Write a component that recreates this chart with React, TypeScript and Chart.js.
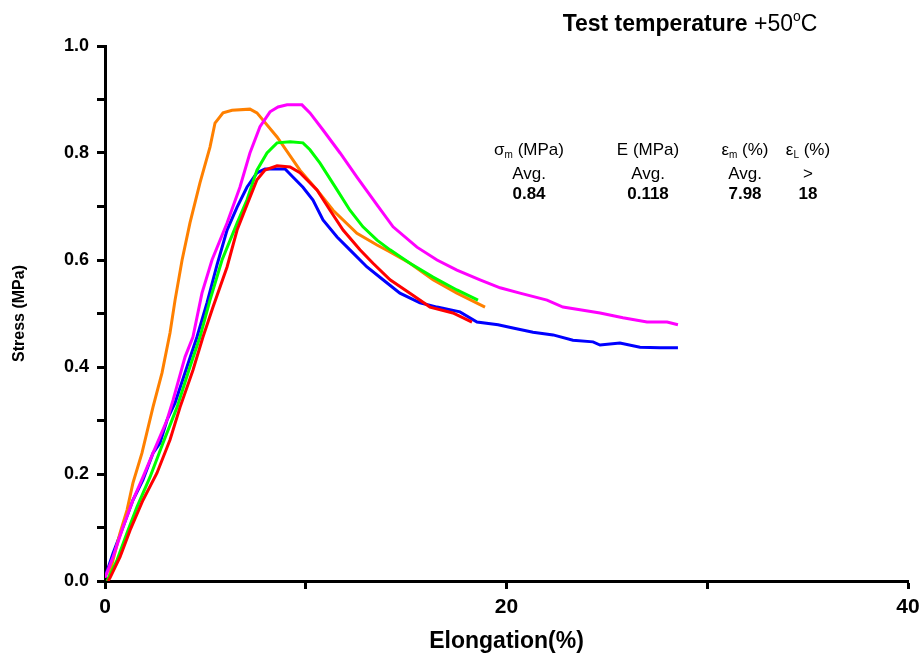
import React, { useEffect, useRef } from "react";
import { Chart, registerables } from "chart.js";

Chart.register(...registerables);

// Elongation (%) and Stress (MPa) for each specimen
const redX = [0.15, 0.25, 0.75, 1.25, 1.89, 2.59, 3.24, 3.74, 4.38, 4.88, 5.38, 6.08, 6.58, 7.07, 7.57, 7.97, 8.57, 9.22, 9.71, 10.56, 11.21, 11.86, 12.7, 13.35, 14.2, 15.19, 16.19, 17.33, 18.28];
const redY = [0, 0.006, 0.045, 0.095, 0.151, 0.202, 0.264, 0.325, 0.394, 0.456, 0.512, 0.587, 0.656, 0.703, 0.75, 0.768, 0.776, 0.774, 0.763, 0.731, 0.693, 0.656, 0.619, 0.594, 0.563, 0.538, 0.512, 0.501, 0.484];

const greenX = [0.1, 0.25, 0.6, 1.1, 1.59, 2.24, 2.89, 3.59, 4.23, 4.73, 5.23, 5.83, 6.58, 7.07, 7.57, 8.07, 8.57, 9.22, 9.86, 10.21, 10.71, 11.56, 12.2, 12.85, 13.55, 14.2, 15.19, 16.34, 17.53, 18.58];
const greenY = [0, 0.011, 0.039, 0.09, 0.138, 0.194, 0.258, 0.325, 0.4, 0.456, 0.525, 0.6, 0.669, 0.712, 0.768, 0.8, 0.819, 0.821, 0.819, 0.806, 0.781, 0.731, 0.693, 0.662, 0.637, 0.619, 0.594, 0.568, 0.544, 0.525];

const magentaX = [0, 0.4, 0.9, 1.39, 1.89, 2.39, 3.09, 3.39, 3.99, 4.38, 4.83, 5.33, 6.08, 6.72, 7.22, 7.72, 8.22, 8.62, 9.07, 9.81, 10.21, 10.86, 11.71, 12.55, 13.55, 14.35, 15.54, 16.54, 17.53, 18.68, 19.68, 20.67, 22.02, 22.81, 23.66, 24.66, 25.8, 27.0, 28.0, 28.54];
const magentaY = [0.006, 0.045, 0.101, 0.151, 0.194, 0.239, 0.301, 0.338, 0.419, 0.456, 0.538, 0.6, 0.669, 0.736, 0.8, 0.849, 0.877, 0.886, 0.89, 0.89, 0.875, 0.843, 0.8, 0.755, 0.703, 0.662, 0.624, 0.6, 0.581, 0.563, 0.548, 0.538, 0.525, 0.512, 0.507, 0.501, 0.492, 0.484, 0.484, 0.479];

const orangeX = [0.15, 0.4, 0.75, 1.1, 1.39, 1.84, 2.39, 2.84, 3.24, 3.49, 3.84, 4.23, 4.73, 5.23, 5.48, 5.88, 6.33, 7.22, 7.57, 8.57, 9.71, 10.56, 11.36, 12.55, 13.55, 14.2, 15.19, 16.34, 17.53, 18.93];
const orangeY = [0, 0.039, 0.09, 0.133, 0.183, 0.239, 0.325, 0.389, 0.464, 0.525, 0.6, 0.669, 0.744, 0.811, 0.856, 0.875, 0.88, 0.882, 0.875, 0.83, 0.768, 0.731, 0.693, 0.65, 0.628, 0.615, 0.594, 0.563, 0.538, 0.512];

const blueX = [0, 0.4, 0.9, 1.39, 1.89, 2.39, 2.74, 3.09, 3.49, 4.08, 4.58, 5.08, 5.58, 6.08, 6.58, 7.07, 7.57, 7.97, 8.97, 9.36, 9.86, 10.36, 10.86, 11.56, 12.2, 13.05, 13.85, 14.69, 15.69, 16.54, 17.68, 18.53, 19.58, 20.32, 21.32, 22.32, 23.31, 24.31, 24.66, 25.65, 26.65, 27.65, 28.54];
const blueY = [0.007, 0.052, 0.101, 0.151, 0.189, 0.239, 0.258, 0.301, 0.333, 0.4, 0.456, 0.52, 0.591, 0.656, 0.699, 0.736, 0.763, 0.77, 0.77, 0.755, 0.736, 0.712, 0.675, 0.643, 0.619, 0.587, 0.563, 0.538, 0.52, 0.512, 0.503, 0.484, 0.479, 0.473, 0.465, 0.46, 0.45, 0.447, 0.441, 0.445, 0.437, 0.436, 0.436];

const xTickLabels = ["0", "20", "40"];
const yTickLabels = ["0.0", "0.2", "0.4", "0.6", "0.8", "1.0"];

const titleBold = "Test temperature";
const titleRest = " +50";

const statHeaders = [
  { base: "σ", sub: "m", rest: " (MPa)" },
  { base: "E (MPa)", sub: "", rest: "" },
  { base: "ε", sub: "m", rest: " (%)" },
  { base: "ε", sub: "L", rest: " (%)" },
];
const statMiddle = ["Avg.", "Avg.", "Avg.", ">"];
const statValues = ["0.84", "0.118", "7.98", "18"];

const FONT = "'Liberation Sans', Arial, sans-serif";

function pairs(xs: number[], ys: number[]) {
  return xs.map((x, i) => ({ x, y: ys[i] }));
}

const textPlugin = {
  id: "texts",
  afterDraw(chart: any) {
    const ctx = chart.ctx;
    ctx.save();
    ctx.fillStyle = "#000";
    ctx.textBaseline = "alphabetic";
    // Title
    ctx.font = `bold 23px ${FONT}`;
    const w1 = ctx.measureText(titleBold).width;
    ctx.font = `23px ${FONT}`;
    const w2 = ctx.measureText(titleRest).width;
    ctx.font = `14px ${FONT}`;
    const w3 = ctx.measureText("o").width;
    ctx.font = `23px ${FONT}`;
    const w4 = ctx.measureText("C").width;
    let x = 690 - (w1 + w2 + w3 + w4) / 2;
    const by = 31;
    ctx.textAlign = "left";
    ctx.font = `bold 23px ${FONT}`;
    ctx.fillText(titleBold, x, by);
    x += w1;
    ctx.font = `23px ${FONT}`;
    ctx.fillText(titleRest, x, by);
    x += w2;
    ctx.font = `14px ${FONT}`;
    ctx.fillText("o", x, by - 10);
    x += w3;
    ctx.font = `23px ${FONT}`;
    ctx.fillText("C", x, by);

    // Stats
    const cols = [529, 648, 745, 808];
    const rowY = [155, 179, 199];
    statHeaders.forEach((h, i) => {
      ctx.font = `17px ${FONT}`;
      const bw = ctx.measureText(h.base).width;
      const rw = ctx.measureText(h.rest).width;
      ctx.font = `10px ${FONT}`;
      const sw = h.sub ? ctx.measureText(h.sub).width : 0;
      let sx = cols[i] - (bw + sw + rw) / 2;
      ctx.textAlign = "left";
      ctx.font = `17px ${FONT}`;
      ctx.fillText(h.base, sx, rowY[0]);
      sx += bw;
      if (h.sub) {
        ctx.font = `10px ${FONT}`;
        ctx.fillText(h.sub, sx, rowY[0] + 3);
        sx += sw;
      }
      ctx.font = `17px ${FONT}`;
      ctx.fillText(h.rest, sx, rowY[0]);

      ctx.textAlign = "center";
      ctx.font = `17px ${FONT}`;
      ctx.fillText(statMiddle[i], cols[i], rowY[1]);
      ctx.font = `bold 17px ${FONT}`;
      ctx.fillText(statValues[i], cols[i], rowY[2]);
    });
    ctx.restore();
  },
};

export default function App() {
  const ref = useRef<HTMLCanvasElement>(null);
  useEffect(() => {
    if (!ref.current) return;
    const ds = (label: string, xs: number[], ys: number[], color: string) => ({
      label,
      data: pairs(xs, ys),
      borderColor: color,
      backgroundColor: color,
      borderWidth: 3,
      pointRadius: 0,
      tension: 0,
      fill: false,
    });
    const chart = new Chart(ref.current, {
      type: "line",
      data: {
        datasets: [
          ds("1", redX, redY, "#ff0000"),
          ds("2", greenX, greenY, "#00ff00"),
          ds("3", magentaX, magentaY, "#ff00ff"),
          ds("4", orangeX, orangeY, "#ff8000"),
          ds("5", blueX, blueY, "#0000ff"),
        ],
      },
      options: {
        animation: false,
        responsive: false,
        maintainAspectRatio: false,
        layout: { padding: { left: 0, top: 46, right: 16, bottom: 0 } },
        plugins: { legend: { display: false }, tooltip: { enabled: false } },
        scales: {
          x: {
            type: "linear",
            min: 0,
            max: 40,
            afterFit: (s: any) => {
              s.height = 76;
              s.paddingLeft = 0;
              s.paddingRight = 0;
            },
            border: { display: true, color: "#000", width: 3 },
            grid: {
              drawOnChartArea: false,
              drawTicks: true,
              tickLength: 8,
              tickWidth: 3,
              tickColor: "#000",
            },
            ticks: {
              stepSize: 10,
              autoSkip: false,
              maxRotation: 0,
              padding: 6,
              color: "#000",
              font: { family: FONT, size: 21, weight: "bold" },
              callback: (v: any) => {
                const idx = xTickLabels.indexOf(String(v));
                return idx >= 0 ? xTickLabels[idx] : "";
              },
            },
            title: {
              display: true,
              text: "Elongation(%)",
              color: "#000",
              font: { family: FONT, size: 23, weight: "bold" },
              padding: { top: 0, bottom: 2 },
            },
          },
          y: {
            type: "linear",
            min: 0,
            max: 1.0,
            afterFit: (s: any) => {
              s.width = 105;
              s.paddingTop = 0;
              s.paddingBottom = 0;
            },
            border: { display: true, color: "#000", width: 3 },
            grid: {
              drawOnChartArea: false,
              drawTicks: true,
              tickLength: 8,
              tickWidth: 3,
              tickColor: "#000",
            },
            ticks: {
              stepSize: 0.1,
              autoSkip: false,
              padding: 8,
              color: "#000",
              font: { family: FONT, size: 18, weight: "bold" },
              callback: (v: any) => {
                const s = Number(v).toFixed(1);
                return yTickLabels.includes(s) && Math.round(Number(v) * 10) % 2 === 0 ? s : "";
              },
            },
            title: {
              display: true,
              text: "Stress (MPa)",
              color: "#000",
              font: { family: FONT, size: 16, weight: "bold" },
              padding: { top: 10, bottom: 0 },
            },
          },
        },
      },
      plugins: [textPlugin],
    } as any);
    return () => chart.destroy();
  }, []);
  return (
    <div style={{ position: "absolute", left: 0, top: 0, width: 924, height: 657, background: "#fff" }}>
      <canvas ref={ref} width={924} height={657} style={{ width: 924, height: 657 }} />
    </div>
  );
}
